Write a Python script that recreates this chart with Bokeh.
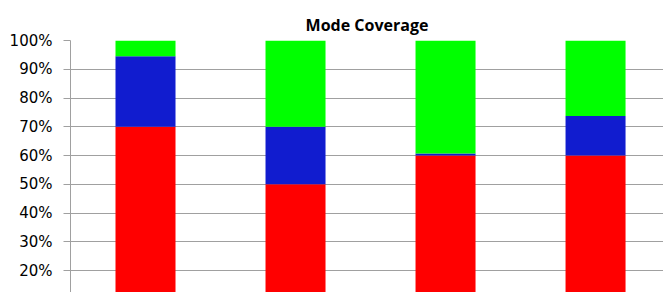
from bokeh.plotting import figure
from bokeh.models import ColumnDataSource, FixedTicker, PrintfTickFormatter, Range1d
from bokeh.embed import file_html
from bokeh.resources import INLINE

categories = ["1", "2", "3", "4"]
red_vals = [70.0, 50.0, 60.0, 60.0]
blue_vals = [24.5, 20.0, 0.7, 13.7]
green_vals = [5.5, 30.0, 39.3, 26.3]
y_ticks = [20, 30, 40, 50, 60, 70, 80, 90, 100]

xs = [i + 0.5 for i in range(len(categories))]
source = ColumnDataSource(dict(x=xs, red=red_vals, blue=blue_vals, green=green_vals))

p = figure(width=663, height=292, output_backend="svg", toolbar_location=None,
           x_range=Range1d(0, 3.953), y_range=Range1d(12.35, 100),
           min_border_left=70, min_border_right=0, min_border_bottom=0, min_border_top=40,
           title="Mode Coverage")
p.title.align = "center"
p.title.text_font = "Open Sans"
p.title.text_font_size = "16px"
p.title.text_font_style = "bold"
p.title.text_color = "#000000"

p.vbar_stack(["red", "blue", "green"], x="x", width=0.4, source=source,
             color=["#ff0000", "#111ccf", "#00ff00"], line_color=None)

p.xaxis.visible = False
p.xgrid.visible = False
p.ygrid.grid_line_color = "#a0a0a0"
p.ygrid.grid_line_width = 1
p.outline_line_color = None

ax = p.yaxis[0]
ax.ticker = FixedTicker(ticks=y_ticks)
ax.formatter = PrintfTickFormatter(format="%d%%")
ax.axis_line_color = "#a0a0a0"
ax.major_tick_line_color = "#a0a0a0"
ax.major_tick_out = 7
ax.major_tick_in = 0
ax.minor_tick_line_color = None
ax.major_label_text_font = "DejaVu Sans"
ax.major_label_text_font_size = "15px"
ax.major_label_text_color = "#000000"
ax.major_label_standoff = 11

open("out.html", "w").write(file_html(p, INLINE))
